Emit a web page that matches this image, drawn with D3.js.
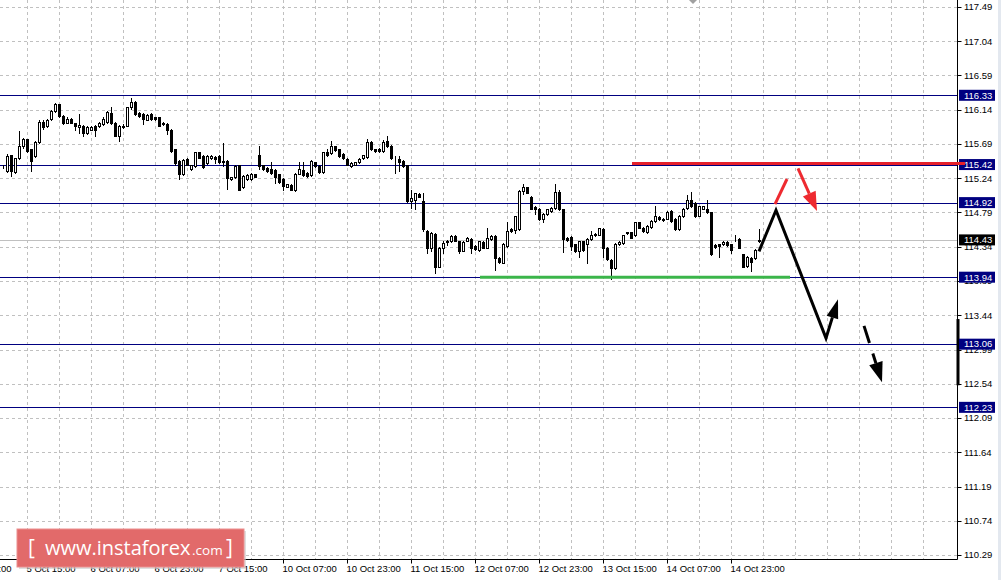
<!DOCTYPE html>
<html><head><meta charset="utf-8">
<script src="https://cdn.jsdelivr.net/npm/d3@7"></script>
<style>body{margin:0;background:#fff;overflow:hidden}svg{display:block}</style>
</head><body>
<svg id="c" width="1001" height="580"></svg>
<script>
// ---------- DATA ----------
const open=[115.39,115.34,115.54,115.32,115.51,115.66,115.75,115.62,115.53,115.71,115.98,115.92,116.02,116.12,116.21,116.06,115.97,116.02,115.96,115.91,115.93,115.83,115.88,115.93,115.92,115.95,115.98,116.10,115.97,115.79,115.91,115.93,116.17,116.24,116.10,116.08,116.01,116.08,116.04,116.04,115.97,115.95,115.88,115.62,115.47,115.29,115.49,115.36,115.40,115.58,115.53,115.44,115.50,115.52,115.53,115.47,115.47,115.23,115.25,115.41,115.12,115.23,115.23,115.29,115.54,115.41,115.38,115.36,115.35,115.29,115.23,115.13,115.15,115.09,115.30,115.35,115.31,115.28,115.45,115.40,115.32,115.58,115.57,115.66,115.62,115.56,115.49,115.40,115.42,115.45,115.50,115.52,115.72,115.62,115.63,115.60,115.73,115.67,115.51,115.49,115.47,115.41,114.94,114.96,115.03,114.94,114.55,114.33,114.51,114.08,114.33,114.40,114.41,114.48,114.41,114.29,114.42,114.44,114.35,114.30,114.40,114.33,114.44,114.48,114.19,114.13,114.35,114.57,114.56,114.57,115.07,115.12,115.00,114.86,114.84,114.71,114.77,114.81,114.85,115.06,114.83,114.46,114.47,114.37,114.28,114.41,114.38,114.44,114.51,114.50,114.57,114.33,114.17,114.06,114.37,114.39,114.52,114.53,114.49,114.66,114.59,114.53,114.60,114.68,114.73,114.71,114.71,114.81,114.71,114.57,114.74,114.85,114.96,114.92,114.75,114.84,114.83,114.79,114.36,114.37,114.37,114.40,114.37,114.46,114.44,114.24,114.09,114.19,114.19,114.41];
const high=[115.41,115.56,115.55,115.51,115.86,115.77,115.76,115.63,115.73,116.00,116.00,116.02,116.14,116.23,116.22,116.07,116.04,116.03,115.97,116.09,115.94,115.92,115.92,115.94,115.98,116.04,116.12,116.17,115.98,115.94,115.95,116.18,116.29,116.26,116.11,116.10,116.09,116.10,116.05,116.05,115.98,115.96,115.89,115.63,115.48,115.49,115.51,115.42,115.59,115.59,115.54,115.54,115.55,115.53,115.54,115.70,115.48,115.26,115.41,115.42,115.28,115.30,115.31,115.30,115.67,115.42,115.39,115.45,115.36,115.30,115.24,115.17,115.16,115.31,115.45,115.45,115.32,115.48,115.46,115.41,115.59,115.62,115.73,115.67,115.63,115.57,115.50,115.45,115.46,115.50,115.55,115.75,115.73,115.63,115.64,115.74,115.80,115.68,115.53,115.53,115.48,115.42,115.09,115.05,115.04,115.05,114.56,114.53,114.52,114.34,114.42,114.43,114.49,114.49,114.42,114.41,114.47,114.45,114.36,114.42,114.41,114.58,114.49,114.49,114.20,114.39,114.66,114.58,114.75,115.08,115.17,115.13,115.01,114.87,114.85,114.78,114.84,114.86,115.16,115.09,114.84,114.47,114.48,114.38,114.42,114.42,114.45,114.55,114.52,114.59,114.58,114.34,114.18,114.39,114.41,114.50,114.54,114.54,114.67,114.67,114.60,114.62,114.69,114.88,114.74,114.72,114.81,114.82,114.72,114.76,114.85,115.02,115.06,114.93,114.88,114.88,114.95,114.80,114.37,114.38,114.41,114.41,114.38,114.49,114.45,114.25,114.22,114.20,114.31,114.57];
const low=[115.37,115.32,115.27,115.31,115.49,115.64,115.59,115.33,115.52,115.70,115.89,115.91,116.01,116.11,116.04,115.95,115.96,115.96,115.88,115.84,115.80,115.82,115.87,115.80,115.91,115.94,115.97,115.95,115.79,115.73,115.90,115.92,116.15,116.07,116.04,115.95,116.00,116.01,116.00,115.92,115.94,115.82,115.59,115.42,115.23,115.28,115.41,115.35,115.39,115.50,115.38,115.43,115.49,115.44,115.44,115.40,115.10,115.22,115.24,115.08,115.11,115.22,115.22,115.25,115.36,115.35,115.32,115.30,115.18,115.18,115.08,115.12,115.08,115.07,115.29,115.27,115.26,115.27,115.39,115.31,115.31,115.53,115.56,115.60,115.52,115.49,115.41,115.39,115.41,115.44,115.49,115.51,115.61,115.58,115.59,115.59,115.65,115.49,115.31,115.34,115.39,114.93,114.85,114.84,114.99,114.55,114.26,114.28,114.00,114.07,114.26,114.36,114.40,114.41,114.26,114.28,114.41,114.26,114.30,114.29,114.32,114.32,114.43,114.04,114.13,114.12,114.34,114.54,114.52,114.56,115.03,115.04,114.83,114.77,114.69,114.66,114.76,114.80,114.84,114.82,114.27,114.42,114.30,114.27,114.21,114.29,114.13,114.43,114.48,114.49,114.21,114.17,113.91,114.05,114.36,114.38,114.51,114.45,114.48,114.58,114.54,114.52,114.59,114.67,114.69,114.68,114.70,114.67,114.56,114.56,114.73,114.84,114.86,114.73,114.74,114.83,114.78,114.23,114.33,114.21,114.36,114.35,114.26,114.42,114.32,114.07,114.08,114.02,114.18,114.40];
const close=[115.39,115.53,115.34,115.50,115.66,115.75,115.60,115.47,115.72,115.98,115.91,116.01,116.12,116.21,116.06,115.96,116.02,115.97,115.92,115.94,115.83,115.91,115.91,115.87,115.97,116.02,116.11,115.97,115.80,115.93,115.93,116.17,116.24,116.08,116.06,116.02,116.07,116.02,116.02,115.93,115.95,115.88,115.60,115.44,115.29,115.48,115.42,115.41,115.58,115.51,115.39,115.53,115.53,115.49,115.45,115.45,115.24,115.25,115.40,115.09,115.27,115.28,115.29,115.26,115.40,115.36,115.34,115.31,115.26,115.19,115.14,115.16,115.09,115.30,115.36,115.28,115.27,115.47,115.40,115.32,115.58,115.55,115.67,115.61,115.53,115.50,115.42,115.44,115.45,115.49,115.54,115.72,115.62,115.60,115.60,115.72,115.66,115.50,115.50,115.45,115.40,114.94,114.98,115.04,115.00,114.57,114.33,114.52,114.08,114.33,114.39,114.41,114.48,114.42,114.28,114.40,114.46,114.33,114.31,114.41,114.33,114.46,114.48,114.19,114.14,114.38,114.55,114.55,114.74,115.07,115.13,115.05,114.84,114.83,114.70,114.77,114.83,114.85,115.06,114.83,114.44,114.43,114.35,114.28,114.41,114.30,114.44,114.50,114.49,114.58,114.33,114.18,114.06,114.38,114.40,114.49,114.53,114.46,114.66,114.59,114.55,114.61,114.68,114.74,114.70,114.69,114.80,114.68,114.57,114.75,114.84,114.95,114.87,114.74,114.87,114.87,114.79,114.24,114.34,114.35,114.40,114.36,114.30,114.45,114.33,114.08,114.21,114.14,114.30,114.43];

const priceTicks=[117.49,117.04,116.59,116.14,115.69,115.24,114.79,114.34,113.89,113.44,112.99,112.54,112.09,111.64,111.19,110.74,110.29];
const levels=[116.33,115.42,114.92,113.94,113.06,112.23];
const bidPrice=114.43;
const timeLabels=["4 Oct 23:00","5 Oct 15:00","6 Oct 07:00","6 Oct 23:00","7 Oct 15:00","10 Oct 07:00","10 Oct 23:00","11 Oct 15:00","12 Oct 07:00","12 Oct 23:00","13 Oct 15:00","14 Oct 07:00","14 Oct 23:00"];
const timeLabelIdx=[-10,6,22,38,54,70,86,102,118,134,150,166,182];

// annotations (bar index, price)
const redLevelSpan=[157.25,240.5], redLevelPrice=115.42;
const greenSpan=[119.25,196.75], greenPrice=113.94;
const blackPathIdx=[189,193.25,205.75,208.75], blackPathPrice=[114.28,114.82,113.14,113.65];
const redStrokeIdx=[193,196], redStrokePrice=[114.90,115.23];
const redArrowIdx=[198.75,203.5], redArrowPrice=[115.37,114.81];
const dashArrowIdx=[215.25,219.75], dashArrowPrice=[113.30,112.56];
const shiftMarkIdx=172.5;
const axisBarPrice=[113.39,112.52];

// ---------- DRAW ----------
const svg=d3.select("#c");
const W=1001,H=580, axX=957.5, axY=559.5;
const x=d3.scaleLinear().domain([0,189]).range([3,759]);
const y=d3.scaleLinear().domain([110.29,117.49]).range([555,7]);
const xc=i=>Math.round(x(i))+0.5;
const yc=p=>Math.round(y(p))+0.5;
const n=open.length;
const FONT="'Liberation Sans', Arial, sans-serif";

svg.append("rect").attr("width",W).attr("height",H).attr("fill","#fff");

// grid
const g=svg.append("g");
g.selectAll("line.h").data(priceTicks).join("line")
 .attr("x1",0).attr("x2",axX).attr("y1",d=>yc(d)).attr("y2",d=>yc(d))
 .attr("stroke","#c0c0c0").attr("stroke-dasharray","3,3");
const gridIdx=d3.range(-2,236,8);
g.selectAll("line.v").data(gridIdx).join("line")
 .attr("x1",d=>xc(d)).attr("x2",d=>xc(d)).attr("y1",0).attr("y2",axY)
 .attr("stroke","#c0c0c0").attr("stroke-dasharray","3,3");

// level lines
svg.selectAll("line.lv").data(levels).join("line")
 .attr("x1",0).attr("x2",axX).attr("y1",d=>yc(d)).attr("y2",d=>yc(d))
 .attr("stroke","#000080").attr("stroke-width",1);
// bid line
svg.append("line").attr("x1",0).attr("x2",axX).attr("y1",yc(bidPrice)).attr("y2",yc(bidPrice))
 .attr("stroke","#c0c0c0");

// candles
const idx=d3.range(n);
const cg=svg.append("g");
cg.selectAll("line.w").data(idx).join("line")
 .attr("x1",i=>xc(i)).attr("x2",i=>xc(i))
 .attr("y1",i=>Math.round(y(high[i]))).attr("y2",i=>Math.round(y(low[i]))+1)
 .attr("stroke","#000");
cg.selectAll("rect.b").data(idx).join("rect")
 .attr("x",i=>xc(i)-1).attr("width",2)
 .attr("y",i=>yc(Math.max(open[i],close[i])))
 .attr("height",i=>Math.max(0,Math.round(y(Math.min(open[i],close[i])))-Math.round(y(Math.max(open[i],close[i])))))
 .attr("fill",i=>close[i]>=open[i]?"#fff":"#000")
 .attr("stroke","#000");

// green line
svg.append("line").attr("x1",x(greenSpan[0])).attr("x2",x(greenSpan[1]))
 .attr("y1",y(greenPrice)).attr("y2",y(greenPrice))
 .attr("stroke","#3bb54a").attr("stroke-width",3);

// arrows helper
function head(x1,y1,x2,y2,L,Wd){
  const dx=x2-x1,dy=y2-y1,len=Math.hypot(dx,dy),ux=dx/len,uy=dy/len;
  const bx=x2-ux*L,by=y2-uy*L;
  return {bx,by,pts:[[x2,y2],[bx-uy*Wd,by+ux*Wd],[bx+uy*Wd,by-ux*Wd]]};
}
// black path
{
  const P=blackPathIdx.map((d,k)=>[x(d),y(blackPathPrice[k])]);
  const h=head(P[2][0],P[2][1],P[3][0],P[3][1],19,6);
  const pts=[P[0],P[1],P[2],[h.bx,h.by]];
  svg.append("path").attr("d",d3.line()(pts)).attr("fill","none")
   .attr("stroke","#000").attr("stroke-width",3).attr("stroke-linejoin","miter");
  svg.append("polygon").attr("points",h.pts.join(" ")).attr("fill","#000");
}
// red short stroke
svg.append("line").attr("x1",x(redStrokeIdx[0])).attr("y1",y(redStrokePrice[0]))
 .attr("x2",x(redStrokeIdx[1])).attr("y2",y(redStrokePrice[1]))
 .attr("stroke","#ee2a30").attr("stroke-width",3);
// red arrow
{
  const x1=x(redArrowIdx[0]),y1=y(redArrowPrice[0]),x2=x(redArrowIdx[1]),y2=y(redArrowPrice[1]);
  const h=head(x1,y1,x2,y2,19,7);
  svg.append("line").attr("x1",x1).attr("y1",y1).attr("x2",h.bx).attr("y2",h.by)
   .attr("stroke","#ee2a30").attr("stroke-width",3);
  svg.append("polygon").attr("points",h.pts.join(" ")).attr("fill","#ee2a30");
}
// dashed black arrow
{
  const x1=x(dashArrowIdx[0]),y1=y(dashArrowPrice[0]),x2=x(dashArrowIdx[1]),y2=y(dashArrowPrice[1]);
  const h=head(x1,y1,x2,y2,20,7);
  svg.append("line").attr("x1",x1).attr("y1",y1).attr("x2",h.bx).attr("y2",h.by)
   .attr("stroke","#000").attr("stroke-width",3).attr("stroke-dasharray","18,11");
  svg.append("polygon").attr("points",h.pts.join(" ")).attr("fill","#000");
}

// shift marker
{
  const sx=x(shiftMarkIdx);
  svg.append("polygon").attr("points",[[sx-4,0],[sx+4,0],[sx,4]].join(" ")).attr("fill","#a0a0a0");
}

// axes
svg.append("line").attr("x1",axX).attr("x2",axX).attr("y1",0).attr("y2",axY).attr("stroke","#000");
svg.append("line").attr("x1",0).attr("x2",axX).attr("y1",axY).attr("y2",axY).attr("stroke","#000");
svg.selectAll("line.pt").data(priceTicks).join("line")
 .attr("x1",axX).attr("x2",axX+4).attr("y1",d=>yc(d)).attr("y2",d=>yc(d)).attr("stroke","#000");
svg.selectAll("text.pt").data(priceTicks).join("text")
 .attr("x",964).attr("y",d=>y(d)).attr("dy","0.35em")
 .attr("font-family",FONT).attr("font-size","9.5px").attr("fill","#000")
 .text(d=>d.toFixed(2));
svg.selectAll("line.tt").data(timeLabelIdx).join("line")
 .attr("x1",d=>xc(d)).attr("x2",d=>xc(d)).attr("y1",axY).attr("y2",axY+4).attr("stroke","#000");
svg.selectAll("text.tt").data(timeLabels).join("text")
 .attr("x",(d,k)=>xc(timeLabelIdx[k])-1).attr("y",572)
 .attr("font-family",FONT).attr("font-size","9.5px").attr("fill","#000")
 .text(d=>d);

// axis bar
svg.append("rect").attr("x",axX-1).attr("width",3)
 .attr("y",y(axisBarPrice[0])).attr("height",y(axisBarPrice[1])-y(axisBarPrice[0])).attr("fill","#000");

// level labels
const lab=svg.append("g");
[...levels.map(v=>({v,c:"#000080"})),{v:bidPrice,c:"#000"}].forEach(d=>{
  lab.append("rect").attr("x",959).attr("y",y(d.v)-5.5).attr("width",36).attr("height",11).attr("fill",d.c);
  lab.append("text").attr("x",964).attr("y",y(d.v)).attr("dy","0.35em")
   .attr("font-family",FONT).attr("font-size","9.5px").attr("fill","#fff").text(d.v.toFixed(2));
});

// red level line (over labels)
svg.append("line").attr("x1",x(redLevelSpan[0])).attr("x2",x(redLevelSpan[1]))
 .attr("y1",y(redLevelPrice)-1).attr("y2",y(redLevelPrice)-1)
 .attr("stroke","#e5202a").attr("stroke-width",3);

// right window strip
svg.append("rect").attr("x",998).attr("y",0).attr("width",3).attr("height",H).attr("fill","#e3e8ef");

// watermark
const wm=svg.append("g");
wm.append("rect").attr("x",19).attr("y",531).attr("width",227).attr("height",38).attr("fill","#c8c8c8").attr("opacity",0.6);
wm.append("rect").attr("x",17).attr("y",529).attr("width",227).attr("height",38)
 .attr("fill","#e26a6a").attr("stroke","#eb8f8f").attr("stroke-width",1);
const WF="'Open Sans','Noto Sans',sans-serif";
wm.append("text").attr("x",28).attr("y",555).attr("font-family",WF).attr("font-size","21px").attr("fill","#fff").text("[");
wm.append("text").attr("x",45).attr("y",555).attr("font-family",WF).attr("font-size","20px").attr("fill","#fff").text("www.instaforex");
wm.append("text").attr("x",192).attr("y",555).attr("font-family",WF).attr("font-size","13.5px").attr("fill","#fff").text(".com");
wm.append("text").attr("x",226).attr("y",555).attr("font-family",WF).attr("font-size","21px").attr("fill","#fff").text("]");
</script>
</body></html>
